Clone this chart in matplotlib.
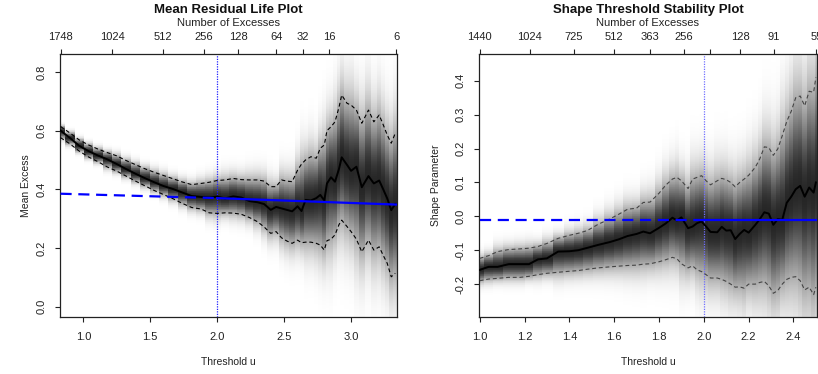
import numpy as np
import matplotlib
matplotlib.use("Agg")
import matplotlib.pyplot as plt

plt.rcParams["font.family"] = ["Liberation Sans", "DejaVu Sans"]

# ---- Mean residual life (left) ----
mrl_u = [0.83, 0.90, 0.97, 1.04, 1.11, 1.18, 1.25, 1.32, 1.39, 1.46, 1.53, 1.60,
         1.67, 1.74, 1.81, 1.88, 1.94, 2.00, 2.06, 2.12, 2.18, 2.24, 2.30, 2.35,
         2.40, 2.44, 2.48, 2.52, 2.56, 2.60, 2.63, 2.66, 2.70, 2.74, 2.77, 2.80,
         2.82, 2.85, 2.88, 2.91, 2.93, 2.97, 3.00, 3.04, 3.08, 3.13, 3.17, 3.21,
         3.24, 3.27, 3.30, 3.33]
mrl_est = [0.600, 0.575, 0.548, 0.530, 0.515, 0.502, 0.486, 0.469, 0.453, 0.438,
           0.424, 0.411, 0.401, 0.389, 0.377, 0.374, 0.372, 0.375, 0.369, 0.376,
           0.372, 0.360, 0.356, 0.350, 0.330, 0.340, 0.335, 0.330, 0.325, 0.342,
           0.326, 0.364, 0.362, 0.370, 0.381, 0.362, 0.420, 0.441, 0.426, 0.470,
           0.509, 0.483, 0.463, 0.477, 0.407, 0.445, 0.420, 0.430, 0.400, 0.369,
           0.329, 0.350]
mrl_hi = [0.614, 0.592, 0.568, 0.551, 0.537, 0.525, 0.514, 0.498, 0.484, 0.470,
          0.458, 0.447, 0.436, 0.425, 0.416, 0.420, 0.424, 0.430, 0.432, 0.437,
          0.433, 0.432, 0.432, 0.428, 0.409, 0.409, 0.432, 0.428, 0.426, 0.465,
          0.486, 0.500, 0.511, 0.506, 0.540, 0.551, 0.600, 0.613, 0.630, 0.680,
          0.721, 0.693, 0.687, 0.670, 0.625, 0.670, 0.630, 0.653, 0.620, 0.585,
          0.557, 0.591]
mrl_lo = [0.576, 0.555, 0.530, 0.510, 0.494, 0.476, 0.462, 0.445, 0.428, 0.412,
          0.396, 0.382, 0.368, 0.352, 0.338, 0.333, 0.320, 0.318, 0.320, 0.319,
          0.315, 0.304, 0.290, 0.272, 0.250, 0.256, 0.235, 0.224, 0.216, 0.227,
          0.218, 0.220, 0.220, 0.216, 0.210, 0.193, 0.225, 0.230, 0.245, 0.280,
          0.295, 0.273, 0.256, 0.230, 0.187, 0.227, 0.193, 0.204, 0.175, 0.148,
          0.102, 0.114]
mrl_fit_u = [0.83, 2.0, 3.34]
mrl_fit_v = [0.385, 0.370, 0.348]
mrl_top_pos = [0.83, 1.216, 1.597, 1.903, 2.157, 2.440, 2.642, 2.836, 3.336]
mrl_top_lab = ["1748", "1024", "512", "256", "128", "64", "32", "16", "6"]

# ---- Shape stability (right) ----
shp_u = [1.00, 1.04, 1.08, 1.13, 1.18, 1.22, 1.26, 1.30, 1.35, 1.40, 1.44, 1.48,
         1.53, 1.58, 1.62, 1.66, 1.70, 1.73, 1.76, 1.80, 1.83, 1.86, 1.88, 1.90,
         1.93, 1.95, 1.97, 1.99, 2.01, 2.03, 2.06, 2.08, 2.10, 2.12, 2.14, 2.16,
         2.18, 2.20, 2.23, 2.25, 2.27, 2.29, 2.31, 2.33, 2.35, 2.37, 2.39, 2.41,
         2.43, 2.45, 2.47, 2.49, 2.50]
shp_est = [-0.158, -0.149, -0.149, -0.141, -0.141, -0.141, -0.127, -0.124, -0.104,
           -0.103, -0.100, -0.093, -0.084, -0.076, -0.068, -0.058, -0.052, -0.045,
           -0.050, -0.034, -0.021, -0.004, -0.012, -0.003, -0.035, -0.030, -0.020,
           -0.015, -0.030, -0.046, -0.047, -0.031, -0.042, -0.041, -0.067, -0.052,
           -0.040, -0.048, -0.025, -0.008, 0.012, 0.008, -0.025, -0.008, -0.010,
           0.040, 0.058, 0.080, 0.090, 0.058, 0.085, 0.070, 0.100]
shp_hi = [-0.124, -0.116, -0.104, -0.098, -0.096, -0.094, -0.089, -0.080, -0.065,
          -0.056, -0.050, -0.042, -0.023, -0.008, 0.006, 0.021, 0.024, 0.041,
          0.042, 0.068, 0.092, 0.110, 0.115, 0.105, 0.082, 0.110, 0.115, 0.120,
          0.105, 0.093, 0.105, 0.112, 0.108, 0.100, 0.087, 0.100, 0.110, 0.121,
          0.145, 0.170, 0.205, 0.203, 0.180, 0.199, 0.238, 0.280, 0.310, 0.350,
          0.355, 0.326, 0.369, 0.366, 0.410]
shp_lo = [-0.190, -0.185, -0.183, -0.180, -0.180, -0.177, -0.172, -0.168, -0.165,
          -0.162, -0.160, -0.156, -0.152, -0.149, -0.147, -0.145, -0.144, -0.141,
          -0.140, -0.134, -0.128, -0.121, -0.125, -0.140, -0.152, -0.146, -0.158,
          -0.163, -0.172, -0.182, -0.182, -0.186, -0.192, -0.200, -0.209, -0.208,
          -0.212, -0.200, -0.200, -0.195, -0.192, -0.205, -0.227, -0.219, -0.200,
          -0.186, -0.180, -0.178, -0.190, -0.217, -0.209, -0.231, -0.209]
shp_fit_u = [1.0, 2.0, 2.51]
shp_fit_v = [-0.012, -0.012, -0.012]
shp_top_pos = [1.0, 1.223, 1.419, 1.599, 1.760, 1.912, 2.028, 2.162, 2.311, 2.502]
shp_top_lab = ["1440", "1024", "725", "512", "363", "256", "", "128", "91", "55"]

threshold = 2.0

fig = plt.figure(figsize=(8.18, 3.74), dpi=100)


def shade(ax, u, est, lo, hi, ylim, k=1.4, peak=0.85):
    u, est, lo, hi = map(np.asarray, (u, est, lo, hi))
    xe = np.concatenate([[u[0] - (u[1] - u[0]) / 2], (u[:-1] + u[1:]) / 2,
                         [u[-1] + (u[-1] - u[-2]) / 2]])
    ye = np.linspace(ylim[0], ylim[1], 401)
    yc = (ye[:-1] + ye[1:]) / 2
    up = (hi - est) / k
    dn = (est - lo) / k
    d = yc[:, None] - est[None, :]
    w = np.where(d > 0, up[None, :], dn[None, :])
    z = peak * np.exp(-0.5 * (d / w) ** 2)
    ax.pcolormesh(xe, ye, z, cmap="gray_r", vmin=0, vmax=1,
                  shading="flat", zorder=1, rasterized=True)


def panel(rect, u, est, lo, hi, fit_u, fit_v, xlim, ylim, yticks, xticks,
          top_pos, top_lab, title, ylab, ylab_x, ci_col, vcol):
    ax = fig.add_axes(rect)
    shade(ax, u, est, lo, hi, ylim)
    ax.axvline(threshold, color=vcol, lw=0.9, ls=(0, (1, 1)), zorder=2)
    ax.plot(u, hi, color=ci_col, lw=0.8, ls=(0, (3.5, 2.5)), zorder=3)
    ax.plot(u, lo, color=ci_col, lw=0.8, ls=(0, (3.5, 2.5)), zorder=3)
    ax.plot(u, est, color="black", lw=1.4, zorder=4)
    fu = np.asarray(fit_u)
    fv = np.asarray(fit_v)
    ax.plot(fu[:2], fv[:2], color="#0000ff", lw=1.6, ls=(0, (5, 3)), zorder=5)
    ax.plot(fu[1:], fv[1:], color="#0000ff", lw=1.6, zorder=5)
    ax.set_xlim(xlim)
    ax.set_ylim(ylim)
    ax.set_xticks(xticks)
    ax.set_xticklabels([f"{t:.1f}" for t in xticks])
    ax.set_yticks(yticks)
    ax.set_yticklabels([f"{t:.1f}" for t in yticks])
    ax.tick_params(axis="x", direction="out", length=3.6, width=0.8,
                   labelsize=8, pad=7, colors="#222222")
    ax.tick_params(axis="y", direction="out", length=3.6, width=0.8,
                   labelsize=8, pad=6, labelrotation=90, colors="#222222")
    for lab in ax.get_yticklabels():
        lab.set_va("center")
    for s in ax.spines.values():
        s.set_linewidth(0.9)
        s.set_color("#222222")

    top = ax.twiny()
    top.set_xlim(xlim)
    top.set_xticks(top_pos)
    top.set_xticklabels(top_lab)
    top.tick_params(axis="x", direction="out", length=3.6, width=0.8,
                    labelsize=8, pad=5, colors="#222222")
    for s in top.spines.values():
        s.set_visible(False)

    cx = rect[0] + rect[2] / 2
    fig.text(cx, 1 - 10 / 374, title, ha="center", va="center",
             fontsize=9.5, fontweight="bold", color="#111111")
    fig.text(cx, 1 - 23 / 374, "Number of Excesses", ha="center", va="center",
             fontsize=8, color="#222222")
    fig.text(cx, 1 - 362 / 374, "Threshold u", ha="center", va="center",
             fontsize=7.5, color="#222222")
    fig.text(ylab_x / 818, rect[1] + rect[3] / 2, ylab, rotation=90,
             ha="center", va="center", fontsize=7.5, color="#222222")
    return ax


bottom = 1 - 317 / 374
height = (317 - 54) / 374

panel([60 / 818, bottom, 337 / 818, height], mrl_u, mrl_est, mrl_lo, mrl_hi,
      mrl_fit_u, mrl_fit_v, (0.826, 3.343), (-0.035, 0.861),
      [0.0, 0.2, 0.4, 0.6, 0.8], [1.0, 1.5, 2.0, 2.5, 3.0],
      mrl_top_pos, mrl_top_lab, "Mean Residual Life Plot", "Mean Excess", 26,
      "black", "#2020ff")

panel([479 / 818, bottom, 338 / 818, height], shp_u, shp_est, shp_lo, shp_hi,
      shp_fit_u, shp_fit_v, (0.997, 2.505), (-0.297, 0.479),
      [-0.2, -0.1, 0.0, 0.1, 0.2, 0.3, 0.4],
      [1.0, 1.2, 1.4, 1.6, 1.8, 2.0, 2.2, 2.4],
      shp_top_pos, shp_top_lab, "Shape Threshold Stability Plot",
      "Shape Parameter", 436, "#444444", "#7070ff")

fig.savefig("out.png", dpi=100, facecolor="white")
